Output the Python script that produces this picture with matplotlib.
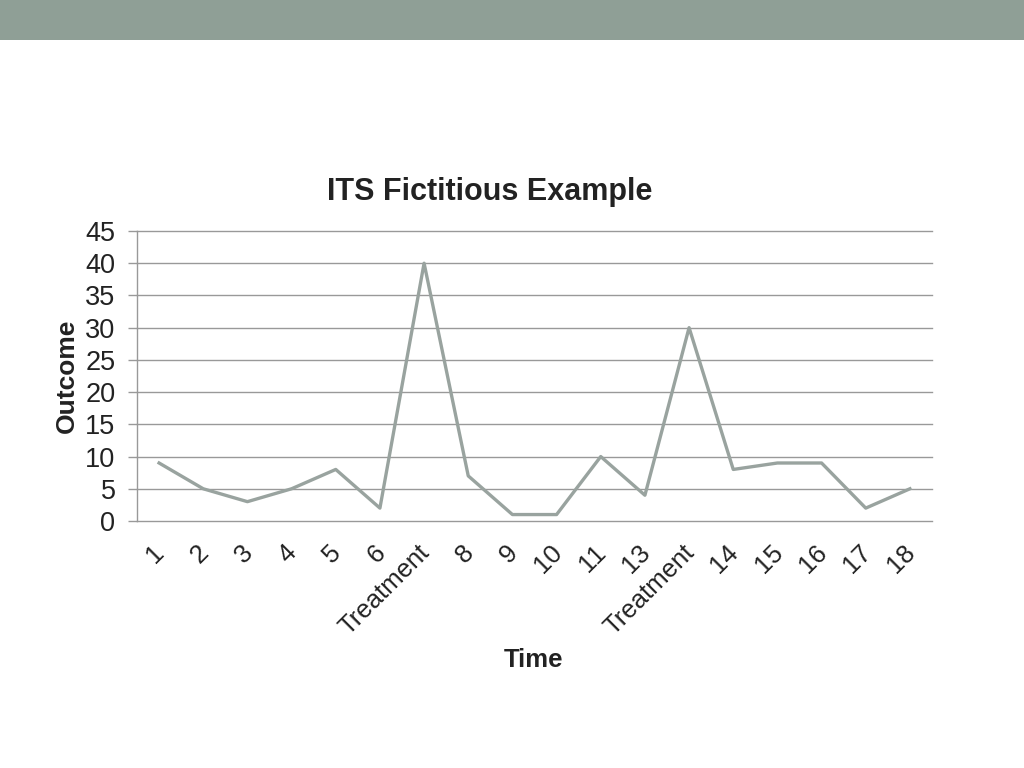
import matplotlib
matplotlib.use("Agg")
import matplotlib.pyplot as plt
from matplotlib.patches import Rectangle
from matplotlib.transforms import ScaledTranslation

categories = ["1", "2", "3", "4", "5", "6", "Treatment", "8", "9", "10", "11", "13",
              "Treatment", "14", "15", "16", "17", "18"]
outcome = [9, 5, 3, 5, 8, 2, 40, 7, 1, 1, 10, 4, 30, 8, 9, 9, 2, 5]
yticks = [0, 5, 10, 15, 20, 25, 30, 35, 40, 45]

plt.rcParams['font.family'] = ['Liberation Sans', 'DejaVu Sans']

fig = plt.figure(figsize=(10.24, 7.68), dpi=100)
fig.patches.append(Rectangle((0, 1 - 40 / 768), 1, 40 / 768, transform=fig.transFigure,
                             facecolor="#8f9f96", edgecolor="none", zorder=0))

ax = fig.add_axes([137 / 1024, 1 - 521 / 768, (932 - 137) / 1024, (521 - 231) / 768])
x = list(range(len(categories)))
ax.plot(x, outcome, color="#99a39f", linewidth=2.4, zorder=3)

ax.set_xlim(-0.5, len(categories) - 0.5)
ax.set_ylim(0, 45)
ax.set_yticks(yticks)
ax.set_yticklabels([str(v) for v in yticks], fontsize=19.5, color="#222222")
ax.set_xticks(x)
ax.set_xticklabels(categories, rotation=45, ha="right", rotation_mode="anchor",
                   fontsize=18.5, color="#222222")
ax.tick_params(axis="x", length=0, pad=14)
ax.tick_params(axis="y", length=6.5, color="#999999", width=1, pad=9)
offset = ScaledTranslation(-7 / 100, 0, fig.dpi_scale_trans)
for lab in ax.get_xticklabels():
    lab.set_transform(lab.get_transform() + offset)
for v in yticks:
    ax.axhline(v, color="#999999", linewidth=1, zorder=1, clip_on=False)
for s in ["top", "right", "bottom"]:
    ax.spines[s].set_visible(False)
ax.spines["left"].set_color("#999999")
ax.spines["left"].set_linewidth(1)

fig.text(490 / 1024, 1 - 192 / 768, "ITS Fictitious Example", fontsize=22, fontweight="bold",
         color="#222222", ha="center", va="center")
fig.text(67 / 1024, 1 - 376 / 768, "Outcome", fontsize=19, fontweight="bold",
         color="#222222", ha="center", va="center", rotation=90)
fig.text(534 / 1024, 1 - 660 / 768, "Time", fontsize=18.5, fontweight="bold",
         color="#222222", ha="center", va="center")

fig.savefig("out.png", dpi=100)
